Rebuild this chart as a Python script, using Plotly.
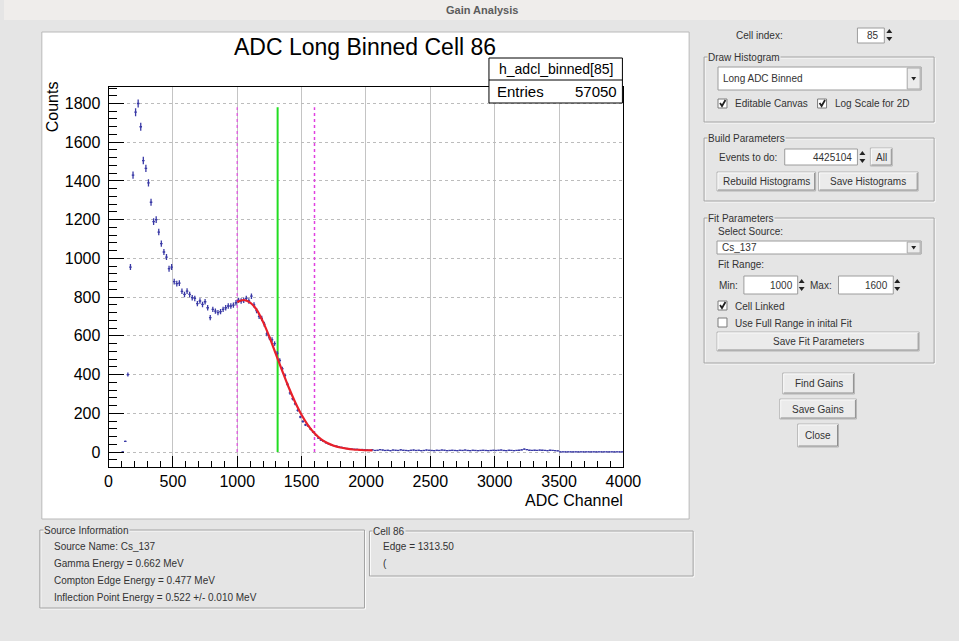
import numpy as np
import plotly.graph_objects as go

# ---------------- histogram data (20-channel bins, 0..4000) ----------------
BIN_WIDTH = 20
counts_0_500 = [None, None, None, None, None, 1, 55, 400, 955, 1430, 1755, 1800, 1680,
                1505, 1465, 1390, 1290, 1190, 1200, 1136, 1076, 1033, 1007, 947, 955]
counts_500_1000 = [880, 870, 872, 830, 814, 831, 814, 797, 793, 766, 780, 762, 776,
                   745, 694, 737, 728, 720, 725, 737, 745, 754, 754, 759, 771]
counts_1000_1500 = [783, 780, 783, 793, 780, 805, 760, 730, 700, 690, 660, 610, 590,
                    580, 560, 510, 473, 430, 396, 350, 305, 275, 249, 215, 181]
counts_1500_2000 = [158, 140, 135, 118, 103, 88, 72, 62, 55, 48, 42, 38, 33, 30, 26,
                    24, 20, 18, 17, 15, 14, 14, 12, 13, 11]
counts_2000_2500 = [10, 9, 11, 8, 9, 12, 10, 8, 9, 7, 10, 9, 8, 11, 9, 8, 7, 9, 10, 8,
                    9, 7, 8, 10, 9]
counts_2500_3000 = [8, 7, 9, 8, 10, 9, 7, 8, 9, 8, 7, 9, 8, 10, 8, 7, 9, 8, 7, 8, 9, 8,
                    7, 8, 9]
counts_3000_3500 = [8, 9, 10, 8, 7, 9, 8, 7, 8, 9, 11, 15, 12, 9, 8, 9, 8, 10, 9, 8, 7,
                    9, 8, 7, 6]
counts_3500_4000 = [1] * 25

# fitted curve (Compton edge fit over the fit window)
fit_adc = [1000, 1050, 1100, 1150, 1200, 1250, 1300, 1350, 1400, 1450, 1500, 1550,
           1600, 1650, 1700, 1750, 1800, 1850, 1900, 1950, 2000, 2050]
fit_counts = [775, 785, 772, 735, 672, 594, 506, 418, 333, 257, 191, 138, 97, 67, 46,
              32, 23, 17, 13, 11, 9, 8]

fit_min = 1000
fit_max = 1600
edge = 1313.50
marker_top = 1780

hist_name = "h_adcl_binned[85]"
entries = 57050
cell_index = 85
events_to_do = 4425104
source_name = "Cs_137"
gamma_energy = 0.662
compton_energy = 0.477
inflection_energy = 0.522
inflection_err = 0.010

counts = (counts_0_500 + counts_500_1000 + counts_1000_1500 + counts_1500_2000 +
          counts_2000_2500 + counts_2500_3000 + counts_3000_3500 + counts_3500_4000)
y = np.array([np.nan if c is None else c for c in counts], dtype=float)
centers = BIN_WIDTH / 2 + BIN_WIDTH * np.arange(len(counts))
yerr = np.sqrt(np.nan_to_num(y)) / 2

# ---------------- page geometry helpers (layout grid -> paper) ----------------
GRID_W, GRID_H = 959, 641      # layout grid used for every element position
FIG_W, FIG_H = 977, 641        # figure size in CSS pixels
BG = "#e5e5e5"
TXT = "#333333"
GUI_FONT = "Liberation Sans"
ROOT_FONT = "Liberation Sans"
HIST_BLUE = "#3a3aa6"


def X(px):
    return px / GRID_W


def Y(py):
    return 1 - py / GRID_H


shapes = []
annots = []


def rect(x0, y0, x1, y1, fill=None, line=None, lw=1, layer="above"):
    shapes.append(dict(type="rect", xref="paper", yref="paper",
                       x0=X(x0), x1=X(x1), y0=Y(y1), y1=Y(y0),
                       fillcolor=fill or "rgba(0,0,0,0)",
                       line=dict(color=line or "rgba(0,0,0,0)", width=lw if line else 0),
                       layer=layer))


def seg(x0, y0, x1, y1, color, lw=1):
    shapes.append(dict(type="line", xref="paper", yref="paper",
                       x0=X(x0), x1=X(x1), y0=Y(y0), y1=Y(y1),
                       line=dict(color=color, width=lw), layer="above"))


def poly(points, fill="#222222", lw=0, color=None):
    d = "M " + " L ".join(f"{X(a):.5f},{Y(b):.5f}" for a, b in points) + " Z"
    shapes.append(dict(type="path", xref="paper", yref="paper", path=d,
                       fillcolor=fill, line=dict(color=color or fill, width=lw),
                       layer="above"))


def text(x, y_, s, size=10, color=TXT, xanchor="left", yanchor="middle",
         family=GUI_FONT, bg=None, angle=0):
    a = dict(xref="paper", yref="paper", x=X(x), y=Y(y_), text=s, showarrow=False,
             xanchor=xanchor, yanchor=yanchor, textangle=angle, borderpad=0,
             font=dict(family=family, size=size, color=color))
    if bg:
        a["bgcolor"] = bg
    annots.append(a)


def group(x0, y0, x1, y1, label):
    rect(x0 + 1, y0 + 1, x1 + 1, y1 + 1, line="#fbfbfb")
    rect(x0, y0, x1, y1, line="#a3a3a3")
    text(x0 + 3, y0, label, bg=BG)


def button(x0, y0, x1, y1, label):
    rect(x0, y0, x1, y1, fill="#ebebeb", line="#b4b4b4")
    seg(x0 + 1, y0 + 1, x1 - 1, y0 + 1, "#fafafa")
    seg(x0 + 1, y0 + 1, x0 + 1, y1 - 1, "#fafafa")
    seg(x0 + 1, y1 - 1, x1 - 1, y1 - 1, "#8f8f8f")
    seg(x1 - 1, y0 + 1, x1 - 1, y1 - 1, "#8f8f8f")
    text((x0 + x1) / 2, (y0 + y1) / 2, label, xanchor="center")


def entry(x0, y0, x1, y1, value, align="right"):
    rect(x0, y0, x1, y1, fill="white", line="#9c9c9c")
    if align == "right":
        text(x1 - 4, (y0 + y1) / 2, value, xanchor="right")
    else:
        text(x0 + 3, (y0 + y1) / 2, value)


def spin(x, yc):
    poly([(x, yc - 2), (x + 6, yc - 2), (x + 3, yc - 6)])
    poly([(x, yc + 2), (x + 6, yc + 2), (x + 3, yc + 6)])


def combo(x0, y0, x1, y1, value):
    rect(x0, y0, x1, y1, fill="white", line="#9c9c9c")
    text(x0 + 4, (y0 + y1) / 2, value)
    rect(x1 - 14, y0 + 1, x1 - 1, y1 - 1, fill="#ececec", line="#a8a8a8")
    yc = (y0 + y1) / 2
    poly([(x1 - 10, yc - 1.5), (x1 - 5, yc - 1.5), (x1 - 7.5, yc + 2)])


def checkbox(x, yc, label, checked=True):
    rect(x, yc - 5, x + 9, yc + 4, fill="white", line="#7a7a7a")
    if checked:
        shapes.append(dict(type="path", xref="paper", yref="paper",
                           path=(f"M {X(x + 2):.5f},{Y(yc - 1):.5f} "
                                 f"L {X(x + 4):.5f},{Y(yc + 2):.5f} "
                                 f"L {X(x + 7.5):.5f},{Y(yc - 4):.5f}"),
                           line=dict(color="#222222", width=1.8), layer="above"))
    text(x + 16, yc, label)


# ---------------- window chrome ----------------
rect(0, 0, GRID_W, 20, fill="#efedeb", layer="below")
text(480, 10, "<b>Gain Analysis</b>", size=11, color="#5c5c5c", xanchor="center")

# ROOT canvas
rect(38, 32, 688, 519, fill="white", line="#b9b9b9", layer="below")

# ---------------- right control panel ----------------
text(734, 35, "Cell index:")
entry(857, 28, 884, 43, str(cell_index))
spin(886, 35)

group(703, 57, 934, 122, "Draw Histogram")
combo(717, 67, 921, 90, "Long ADC Binned")
checkbox(717, 104, "Editable Canvas")
checkbox(817, 104, "Log Scale for 2D")

group(703, 138, 934, 201, "Build Parameters")
text(717, 157, "Events to do:")
entry(784, 149, 857, 165, str(events_to_do))
spin(859, 157)
button(870, 148, 892, 166, "All")
button(716, 172, 815, 191, "Rebuild Histograms")
button(818, 172, 918, 191, "Save Histograms")

group(703, 218, 934, 363, "Fit Parameters")
text(716, 231, "Select Source:")
combo(716, 241, 921, 254, source_name)
text(716, 265, "Fit Range:")
text(717, 285, "Min:")
entry(743, 276, 797, 294, str(fit_min))
spin(798, 285)
text(808, 285, "Max:")
entry(838, 276, 893, 294, str(fit_max))
spin(894, 285)
checkbox(717, 306, "Cell Linked")
checkbox(717, 323, "Use Full Range in inital Fit", checked=False)
button(716, 332, 919, 351, "Save Fit Parameters")

button(782, 373, 854, 394, "Find Gains")
button(779, 399, 856, 419, "Save Gains")
button(797, 424, 838, 447, "Close")

# ---------------- bottom information panels ----------------
group(36, 530, 362, 608, "Source Information")
text(49, 546, f"Source Name: {source_name}")
text(49, 563, f"Gamma Energy = {gamma_energy:.3f} MeV")
text(49, 580, f"Compton Edge Energy = {compton_energy:.3f} MeV")
text(49, 597, f"Inflection Point Energy = {inflection_energy:.3f} +/- {inflection_err:.3f} MeV")

group(367, 531, 692, 576, f"Cell {cell_index + 1}")
text(380, 546, f"Edge = {edge:.2f}")
text(380, 563, "(")

# ---------------- histogram canvas contents ----------------
FRAME_L, FRAME_R, FRAME_T, FRAME_B = 105, 622, 87, 467
text(363, 47, f"ADC Long Binned Cell {cell_index + 1}",
     size=23, color="black", xanchor="center", family=ROOT_FONT)
text(49, FRAME_T - 7, "Counts", size=16, color="black", xanchor="center",
     yanchor="top", family=ROOT_FONT, angle=-90)
text(FRAME_R + 1, 500, "ADC Channel", size=16, color="black", xanchor="right",
     family=ROOT_FONT)

# statistics box
SB_L, SB_R, SB_T, SB_M, SB_B = 487, 621, 58, 80, 103
rect(SB_L, SB_T, SB_R, SB_B, fill="white", line="black", lw=1)
seg(SB_L, SB_M, SB_R, SB_M, "black")
text((SB_L + SB_R) / 2, (SB_T + SB_M) / 2, hist_name, size=14, color="black",
     xanchor="center", family=ROOT_FONT)
text(SB_L + 7, (SB_M + SB_B) / 2, "Entries", size=15, color="black", family=ROOT_FONT)
text(SB_R - 4, (SB_M + SB_B) / 2, str(entries), size=15, color="black",
     xanchor="right", family=ROOT_FONT)

# fit window and edge markers
for xv, col, dash in [(fit_min, "#dd66dd", "dot"), (fit_max, "#e040e0", "dot"),
                      (edge, "#22dd22", "solid")]:
    shapes.append(dict(type="line", xref="x", yref="y", x0=xv, x1=xv, y0=0,
                       y1=marker_top, layer="between",
                       line=dict(color=col, width=2 if dash == "solid" else 1.5,
                                 dash=dash)))

fig = go.Figure()
fig.add_trace(go.Scatter(
    x=centers, y=y, mode="markers",
    marker=dict(size=1, color=HIST_BLUE),
    error_x=dict(type="constant", value=BIN_WIDTH / 2, width=0, thickness=1.3,
                 color=HIST_BLUE),
    error_y=dict(type="data", array=yerr, width=0, thickness=1.3, color=HIST_BLUE),
    hoverinfo="skip", showlegend=False))
fig.add_trace(go.Scatter(
    x=fit_adc, y=fit_counts, mode="lines",
    line=dict(color="#e8202a", width=2.2, shape="spline", smoothing=1.0),
    hoverinfo="skip", showlegend=False))

y_lo = -(FRAME_B - 452) / (452 - 103.5) * 1800
y_hi = 1800 + (103.5 - FRAME_T) / (452 - 103.5) * 1800

fig.update_layout(
    width=FIG_W, height=FIG_H, autosize=False,
    margin=dict(l=0, r=0, t=0, b=0),
    paper_bgcolor=BG, plot_bgcolor="white",
    shapes=shapes, annotations=annots,
    font=dict(family=ROOT_FONT, color="black"),
    xaxis=dict(
        domain=[X(FRAME_L), X(FRAME_R)], range=[0, 4000], tick0=0, dtick=500,
        ticks="inside", ticklen=11, tickcolor="black", tickwidth=1,
        minor=dict(dtick=100, ticks="inside", ticklen=6, tickcolor="black",
                   showgrid=False),
        showline=True, linecolor="black", linewidth=1, mirror=True,
        showgrid=True, gridcolor="#c4c4c4", gridwidth=1,
        zeroline=False, tickfont=dict(size=16, color="black", family=ROOT_FONT),
        fixedrange=True),
    yaxis=dict(
        domain=[Y(FRAME_B), Y(FRAME_T)], range=[y_lo, y_hi], tick0=0, dtick=200,
        ticks="inside", ticklen=15, tickcolor="black", tickwidth=1,
        minor=dict(dtick=40, ticks="inside", ticklen=8, tickcolor="black",
                   showgrid=False),
        showline=True, linecolor="black", linewidth=1, mirror=True,
        showgrid=True, gridcolor="#bcbcbc", griddash="dot", gridwidth=1,
        zeroline=False, tickfont=dict(size=16, color="black", family=ROOT_FONT),
        ticklabelstandoff=4, fixedrange=True),
)

fig.write_html("out.html")
